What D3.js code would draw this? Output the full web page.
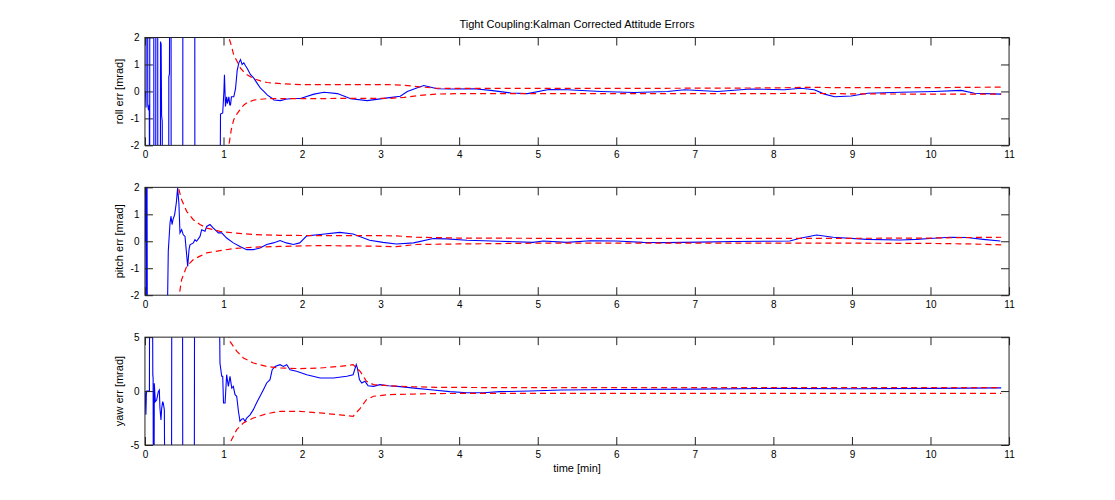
<!DOCTYPE html>
<html>
<head>
<meta charset="utf-8">
<script src="https://cdn.jsdelivr.net/npm/d3@7"></script>
<style>
  html, body { margin: 0; padding: 0; background: #fff; }
  svg { display: block; }
  text { font-family: "Liberation Sans", Arial, sans-serif; fill: #000; }
</style>
</head>
<body>
<svg id="chart" width="1115" height="500"></svg>
<script>
// ---------------- data ----------------
const chartTitle = "Tight Coupling:Kalman Corrected Attitude Errors";
const xLabel = "time [min]";
const xTicks = [0, 1, 2, 3, 4, 5, 6, 7, 8, 9, 10, 11];
const rollTicks = [-2, -1, 0, 1, 2];
const pitchTicks = [-2, -1, 0, 1, 2];
const yawTicks = [-5, 0, 5];

// roll error (blue)
const rollTime = [0.000, 0.008, 0.014, 0.016, 0.034, 0.036, 0.045, 0.055, 0.060, 0.062, 0.112, 0.114, 0.137, 0.139, 0.162, 0.164,
  0.196, 0.198, 0.206, 0.212, 0.220, 0.226, 0.302, 0.304, 0.312, 0.316, 0.332, 0.334, 0.481, 0.483, 0.634, 0.636, 0.952,
  0.962, 0.990, 1.005, 1.012, 1.025, 1.040, 1.050, 1.068, 1.080, 1.089, 1.101, 1.131, 1.153, 1.174, 1.195, 1.216, 1.237,
  1.259, 1.280, 1.301, 1.344, 1.386, 1.429, 1.471, 1.514, 1.556, 1.620, 1.641, 1.726, 1.790, 1.875, 1.980, 2.151, 2.280,
  2.450, 2.620, 2.830, 3.090, 3.250, 3.340, 3.450, 3.550, 3.720, 3.900, 4.190, 4.400, 4.660, 4.870, 5.140, 5.380, 5.800,
  6.230, 6.650, 6.870, 7.290, 7.710, 8.140, 8.350, 8.520, 8.650, 8.780, 8.990, 9.200, 9.620, 10.050, 10.390, 10.560, 10.900];
const rollErr = [0.0, -0.1, -0.6, 6, 6, -0.5, -0.7, -0.5, -6, 6, 6, -6, -6, 6, 6, -6,
  -6, 1.85, 1.75, -0.9, -1.1, -6, -6, 0.55, 0.65, 6, 6, -6, -6, 6, 6, -6, -6,
  -0.84, -0.8, 0.0, 0.62, -0.56, -0.2, -0.45, -0.2, -0.5, -0.5, -0.2, -0.2, 0.1, 0.77, 1.06, 1.18, 1.0,
  1.06, 0.95, 0.86, 0.62, 0.49, 0.3, 0.12, 0.0, -0.13, -0.26, -0.32, -0.34, -0.29, -0.26, -0.26, -0.1, -0.03,
  -0.08, -0.27, -0.34, -0.24, -0.18, 0.0, 0.12, 0.22, 0.10, 0.09, 0.10, 0.04, -0.06, -0.08, 0.07, 0.06, 0.0,
  -0.04, 0.0, 0.06, 0.0, 0.09, 0.06, 0.12, 0.06, -0.1, -0.2, -0.17, -0.07, -0.03, 0.0, 0.04, -0.07, -0.1];
// roll 1-sigma bounds (red dashed)
const rollBoundTime = [1.05, 1.068, 1.1, 1.13, 1.174, 1.216, 1.26, 1.3, 1.386, 1.471, 1.556, 1.77, 1.98, 2.5, 3.1, 3.3, 3.5,
  3.7, 4.0, 5.0, 6.0, 7.0, 8.0, 8.4, 9.0, 10.0, 10.9];
const rollUpper = [2.3, 2.0, 1.7, 1.35, 1.11, 0.86, 0.72, 0.62, 0.47, 0.39, 0.33, 0.28, 0.25, 0.25, 0.25, 0.23, 0.17,
  0.12, 0.11, 0.11, 0.11, 0.12, 0.13, 0.15, 0.14, 0.14, 0.16];
const rollLower = [-2.3, -2.0, -1.4, -1.05, -0.82, -0.65, -0.5, -0.42, -0.32, -0.29, -0.27, -0.27, -0.27, -0.26, -0.26, -0.22, -0.15,
  -0.1, -0.08, -0.08, -0.08, -0.08, -0.08, -0.07, -0.09, -0.1, -0.1];

// pitch error (blue)
const pitchTime = [0.000, 0.010, 0.014, 0.018, 0.022, 0.026, 0.030, 0.284, 0.297, 0.319, 0.332, 0.345, 0.357, 0.378, 0.399,
  0.416, 0.432, 0.446, 0.467, 0.488, 0.510, 0.531, 0.544, 0.561, 0.573, 0.616, 0.637, 0.658, 0.701, 0.722, 0.764, 0.786,
  0.828, 0.871, 0.935, 0.977, 1.040, 1.125, 1.210, 1.295, 1.380, 1.465, 1.550, 1.634, 1.720, 1.800, 1.890, 1.970, 2.060,
  2.230, 2.480, 2.650, 2.860, 3.030, 3.200, 3.420, 3.670, 3.840, 4.100, 4.520, 4.940, 5.070, 5.370, 5.670, 6.000, 6.340,
  6.640, 7.070, 7.490, 7.910, 8.210, 8.340, 8.550, 8.760, 9.190, 9.610, 9.820, 10.040, 10.250, 10.460, 10.670, 10.890];
const pitchErr = [0.0, 3, -3, 3, -1.8, 3, -3, -3, -0.37, 0.68, 0.93, 0.62, 0.8, 0.99, 1.42,
  1.97, 1.42, 0.31, 0.43, 0.24, 0.18, -0.5, -0.93, -0.31, -0.13, -0.06, 0.06, 0.0, 0.18, 0.43, 0.37, 0.55,
  0.62, 0.49, 0.31, 0.31, 0.12, -0.06, -0.19, -0.31, -0.31, -0.25, -0.12, -0.06, 0.03, -0.06, -0.12, -0.06, 0.2,
  0.25, 0.33, 0.27, 0.04, -0.04, -0.1, -0.06, 0.1, 0.09, 0.04, 0.0, -0.04, 0.01, -0.04, 0.02, 0.01, -0.04,
  -0.05, -0.03, -0.01, 0.0, 0.01, 0.11, 0.23, 0.15, 0.07, 0.05, 0.07, 0.11, 0.15, 0.14, 0.07, 0.01];
// pitch 1-sigma bounds (red dashed)
const pitchBoundTime = [0.41, 0.425, 0.467, 0.531, 0.616, 0.701, 0.786, 0.955, 1.125, 1.38, 1.72, 2.23, 2.9, 3.2, 3.45,
  4.0, 5.0, 6.0, 7.0, 8.0, 9.0, 10.0, 10.5, 10.9];
const pitchUpper = [2.3, 2.0, 1.54, 1.11, 0.8, 0.62, 0.49, 0.37, 0.31, 0.25, 0.22, 0.21, 0.21, 0.2, 0.15,
  0.12, 0.11, 0.11, 0.11, 0.11, 0.11, 0.12, 0.14, 0.15];
const pitchLower = [-2.6, -2.2, -1.42, -0.93, -0.68, -0.55, -0.43, -0.35, -0.27, -0.22, -0.19, -0.16, -0.18, -0.2, -0.12,
  -0.1, -0.07, -0.07, -0.07, -0.07, -0.07, -0.08, -0.1, -0.13];

// yaw error (blue)
const yawTime = [0.000, 0.005, 0.012, 0.018, 0.022, 0.057, 0.060, 0.095, 0.100, 0.104, 0.107, 0.115, 0.119, 0.132, 0.149,
  0.170, 0.183, 0.191, 0.204, 0.213, 0.226, 0.234, 0.247, 0.255, 0.338, 0.342, 0.478, 0.482, 0.628, 0.632, 0.943, 0.955,
  0.977, 0.990, 1.000, 1.020, 1.040, 1.062, 1.083, 1.105, 1.125, 1.147, 1.168, 1.190, 1.210, 1.232, 1.253, 1.274, 1.295,
  1.338, 1.380, 1.420, 1.465, 1.508, 1.550, 1.592, 1.620, 1.656, 1.720, 1.762, 1.805, 1.847, 1.930, 2.060, 2.230, 2.400,
  2.570, 2.650, 2.690, 2.705, 2.730, 2.760, 2.800, 2.840, 2.910, 2.990, 3.100, 3.250, 3.460, 3.670, 3.880, 4.100, 4.310,
  4.520, 4.900, 5.300, 6.000, 7.000, 8.000, 9.000, 10.000, 10.900];
const yawErr = [0.0, -0.4, -2.2, -0.3, 0.0, 0.0, 12, 12, 1.5, 1.2, -12, -12, 0.72, -0.98, -0.83,
  -0.05, 0.1, -1.6, -2.68, -1.6, -0.98, -1.14, -1.75, -12, -12, 12, 12, -12, -12, 12, 12, 2.6,
  1.37, 1.37, -1.1, -1.1, 1.52, 0.44, 1.37, 0.28, 0.44, -0.33, -0.48, -1.87, -2.8, -2.6, -2.55, -2.8, -2.5,
  -2.2, -1.72, -1.1, -0.48, 0.13, 0.75, 1.06, 1.98, 2.29, 2.45, 2.29, 2.45, 1.98, 1.83, 1.52, 1.21, 1.21,
  1.37, 1.52, 2.45, 2.1, 1.06, 0.75, 0.91, 0.5, 0.44, 0.6, 0.5, 0.41, 0.25, 0.1, -0.05, -0.15, -0.15,
  -0.05, 0.0, 0.1, 0.15, 0.18, 0.25, 0.22, 0.25, 0.3];
// yaw 1-sigma bounds (red dashed)
const yawBoundTime = [1.05, 1.083, 1.168, 1.253, 1.38, 1.55, 1.72, 1.974, 2.23, 2.48, 2.65, 2.74, 2.82, 2.91, 3.1,
  3.4, 3.7, 4.5, 6.0, 8.0, 10.0, 10.9];
const yawUpper = [5.5, 4.6, 3.7, 3.07, 2.6, 2.29, 2.14, 2.08, 2.14, 2.29, 2.45, 1.83, 0.91, 0.6, 0.5,
  0.4, 0.35, 0.32, 0.32, 0.32, 0.32, 0.32];
const yawLower = [-5.5, -4.8, -3.58, -2.96, -2.5, -2.1, -1.88, -1.88, -2.03, -2.2, -2.34, -1.6, -0.8, -0.48, -0.33,
  -0.28, -0.23, -0.21, -0.21, -0.21, -0.21, -0.22];

// ---------------- drawing ----------------
const W = 1115, H = 500;
const svg = d3.select("#chart");
svg.append("rect").attr("width", W).attr("height", H).attr("fill", "#fff");

const left = 144.95, axW = 864.1, axH = 107.85;
const panels = [
  { top: 37.5,   label: "roll err [mrad]",  ticks: rollTicks,  dom: [-2, 2], t: rollTime,  v: rollErr,  bt: rollBoundTime,  up: rollUpper,  lo: rollLower },
  { top: 187.35, label: "pitch err [mrad]", ticks: pitchTicks, dom: [-2, 2], t: pitchTime, v: pitchErr, bt: pitchBoundTime, up: pitchUpper, lo: pitchLower },
  { top: 337.15, label: "yaw err [mrad]",   ticks: yawTicks,   dom: [-5, 5], t: yawTime,   v: yawErr,   bt: yawBoundTime,   up: yawUpper,   lo: yawLower }
];

const x = d3.scaleLinear().domain([0, 11]).range([0, axW]);
const fmt = d => String(d);

panels.forEach((p, i) => {
  const g = svg.append("g").attr("transform", `translate(${left},${p.top})`);
  const y = d3.scaleLinear().domain(p.dom).range([axH, 0]);

  const clipId = "clip" + i;
  g.append("clipPath").attr("id", clipId)
    .append("rect").attr("x", 0).attr("y", 0).attr("width", axW).attr("height", axH);

  const plot = g.append("g").attr("clip-path", `url(#${clipId})`);
  const line = d3.line().x(d => x(d[0])).y(d => y(d[1]));

  const blue = p.t.map((tt, k) => [tt, p.v[k]]);
  const upper = p.bt.map((tt, k) => [tt, p.up[k]]);
  const lower = p.bt.map((tt, k) => [tt, p.lo[k]]);

  plot.append("path").datum(blue).attr("d", line)
    .attr("fill", "none").attr("stroke", "#0000ff").attr("stroke-width", 1.1);
  [upper, lower].forEach(b => {
    plot.append("path").datum(b).attr("d", line)
      .attr("fill", "none").attr("stroke", "#ff0000").attr("stroke-width", 1.2)
      .attr("stroke-dasharray", "6,4");
  });

  // axes (inward ticks, MATLAB box style)
  const fs = "10px";
  const xb = g.append("g").attr("transform", `translate(0,${axH})`)
    .call(d3.axisBottom(x).tickValues(xTicks).tickFormat(fmt).tickSizeInner(-8).tickSizeOuter(0).tickPadding(6));
  const xt = g.append("g")
    .call(d3.axisTop(x).tickValues(xTicks).tickSizeInner(-8).tickSizeOuter(0).tickFormat(""));
  const yl = g.append("g")
    .call(d3.axisLeft(y).tickValues(p.ticks).tickFormat(fmt).tickSizeInner(-8).tickSizeOuter(0).tickPadding(5.5));
  const yr = g.append("g").attr("transform", `translate(${axW},0)`)
    .call(d3.axisRight(y).tickValues(p.ticks).tickSizeInner(-8).tickSizeOuter(0).tickFormat(""));
  [xb, xt, yl, yr].forEach(a => {
    a.select(".domain").remove();
    a.selectAll("line").attr("stroke", "#222");
    a.selectAll("text").attr("font-size", fs).attr("font-family", "'Liberation Sans', Arial, sans-serif").attr("fill", "#000");
  });

  g.append("rect").attr("x", 0).attr("y", 0).attr("width", axW).attr("height", axH)
    .attr("fill", "none").attr("stroke", "#222").attr("stroke-width", 1);

  g.append("text")
    .attr("transform", `translate(${-22},${axH / 2}) rotate(-90)`)
    .attr("text-anchor", "middle").attr("font-size", "11px")
    .text(p.label);
});

svg.append("text").attr("x", left + axW / 2).attr("y", 28)
  .attr("text-anchor", "middle").attr("font-size", "11px").text(chartTitle);
svg.append("text").attr("x", left + axW / 2).attr("y", 472)
  .attr("text-anchor", "middle").attr("font-size", "11px").text(xLabel);
</script>
</body>
</html>
